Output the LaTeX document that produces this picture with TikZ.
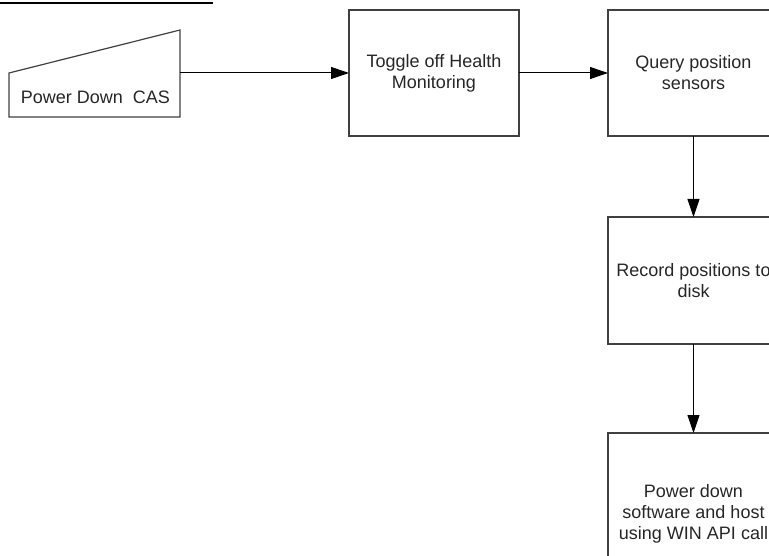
\documentclass[tikz,border=0pt]{standalone}
\usepackage{fontspec}
\setmainfont{Liberation Sans}
\usetikzlibrary{arrows.meta}
\begin{document}
\begin{tikzpicture}[x=1pt,y=-1pt,
  every node/.style={font=\fontsize{18}{21}\selectfont, text=black!85},
  procbox/.style={draw=black!75, line width=1.2pt},
  flow/.style={draw=black, line width=1pt, -{Triangle[length=18pt,width=12pt]}}]
  \useasboundingbox (0,0) rectangle (769,556);
  \clip (0,0) rectangle (769,556);

  % underline of the page heading
  \draw[line width=1.6pt] (0,3) -- (213,3);

  % manual input shape
  \draw[procbox] (9,73) -- (180,30) -- (180,117) -- (9,117) -- cycle;
  \node (pd) at (95.5,97) {Power Down\ \ CAS};
  \coordinate (pdout) at (180,73);

  % process boxes
  \draw[procbox] (349,10) rectangle (519,136);
  \node[align=center] (hm) at (434,73) {Toggle off Health\\Monitoring};
  \coordinate (hmin) at (349,73);
  \coordinate (hmout) at (519,73);

  \draw[procbox] (608,10) rectangle (779,136);
  \node[align=center] (qp) at (693.5,73) {Query position\\sensors};
  \coordinate (qpin) at (608,73);
  \coordinate (qpout) at (693.5,136);

  \draw[procbox] (608,217) rectangle (779,344);
  \node[align=center] (rp) at (693.5,280.5) {Record positions to\\disk};
  \coordinate (rpin) at (693.5,217);
  \coordinate (rpout) at (693.5,344);

  \draw[procbox] (608,433) rectangle (779,600);
  \node[align=center] (ps) at (693.5,514) {Power down\\software and host\\using WIN API call};
  \coordinate (psin) at (693.5,433);

  % connectors
  \draw[flow] (pdout) -- (hmin);
  \draw[flow] (hmout) -- (qpin);
  \draw[flow] (qpout) -- (rpin);
  \draw[flow] (rpout) -- (psin);
\end{tikzpicture}
\end{document}
